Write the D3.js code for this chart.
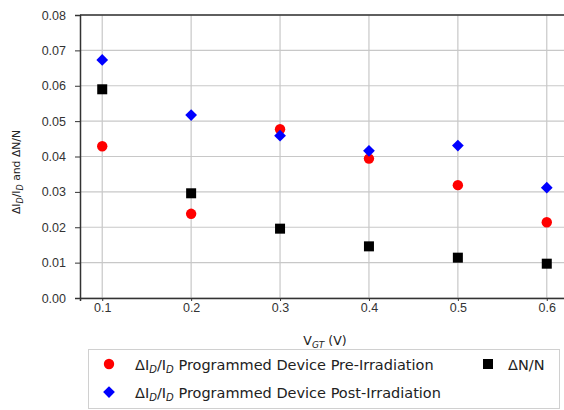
<!DOCTYPE html>
<html>
<head>
<meta charset="utf-8">
<script src="https://cdn.jsdelivr.net/npm/d3@7"></script>
<style>
  body { margin: 0; background: #fff; }
  svg { display: block; font-family: "DejaVu Sans", sans-serif; }
</style>
</head>
<body>
<div id="chart"></div>
<script>
const vgt = [0.1, 0.2, 0.3, 0.4, 0.5, 0.6];
const preIrr = [0.0429, 0.0238, 0.0477, 0.0394, 0.0319, 0.0214];
const postIrr = [0.0673, 0.0517, 0.0459, 0.0416, 0.0431, 0.0312];
const deltaN = [0.0590, 0.0296, 0.0196, 0.0146, 0.0114, 0.0097];
const xTicks = [0.1, 0.2, 0.3, 0.4, 0.5, 0.6];
const yTicks = [0, 0.01, 0.02, 0.03, 0.04, 0.05, 0.06, 0.07, 0.08];

const W = 564, H = 410;
const margin = {top: 15, right: -5, bottom: 112, left: 80};
const width = W - margin.left - margin.right;
const height = H - margin.top - margin.bottom;

const svg = d3.select("#chart").append("svg")
    .attr("width", W)
    .attr("height", H);

const g = svg.append("g")
    .attr("transform", "translate(" + margin.left + "," + margin.top + ")");

const x = d3.scaleLinear().domain([0.075, 0.625]).range([0, width]);
const y = d3.scaleLinear().domain([0, 0.08]).range([height, 0]);

// grid
g.append("g").selectAll("line").data(xTicks).enter().append("line")
    .attr("x1", d => x(d)).attr("x2", d => x(d))
    .attr("y1", 0).attr("y2", height)
    .style("stroke", "#c8c8c8").style("stroke-width", 1.2);
g.append("g").selectAll("line").data(yTicks).enter().append("line")
    .attr("x1", 0).attr("x2", width)
    .attr("y1", d => y(d)).attr("y2", d => y(d))
    .style("stroke", "#c8c8c8").style("stroke-width", 1.2);

// axes
const xAxis = g.append("g")
    .attr("transform", `translate(0, ${height})`)
    .call(d3.axisBottom(x).tickValues(xTicks).tickFormat(d3.format(".1f")).tickSizeOuter(0).tickSize(3).tickPadding(2));
const yAxis = g.append("g")
    .call(d3.axisLeft(y).tickValues(yTicks).tickFormat(d3.format(".2f")).tickSizeOuter(0).tickSize(5).tickPadding(9));
[xAxis, yAxis].forEach(a => {
    a.selectAll("text").style("font-size", "12.5px").style("fill", "#333");
    a.selectAll("line").style("stroke", "#333");
    a.select(".domain").style("stroke", "#333").style("stroke-width", 1.5);
});
g.append("line").attr("x1", 0).attr("x2", width).attr("y1", 0).attr("y2", 0)
    .style("stroke", "#333").style("stroke-width", 1.5);

// markers
g.selectAll(".pre").data(vgt).enter().append("circle")
    .attr("class", "pre")
    .attr("cx", d => x(d))
    .attr("cy", (d, i) => y(preIrr[i]))
    .attr("r", 5.2)
    .style("fill", "#ff0000");

const diamond = d3.symbol().type(d3.symbolDiamond2).size(88);
g.selectAll(".post").data(vgt).enter().append("path")
    .attr("class", "post")
    .attr("d", diamond)
    .attr("transform", (d, i) => `translate(${x(d)},${y(postIrr[i])})`)
    .style("fill", "#0000ff");

g.selectAll(".dn").data(vgt).enter().append("rect")
    .attr("class", "dn")
    .attr("x", d => x(d) - 5)
    .attr("y", (d, i) => y(deltaN[i]) - 5)
    .attr("width", 10).attr("height", 10)
    .style("fill", "#000");

// axis titles
const xt = svg.append("text")
    .attr("x", 325).attr("y", 345)
    .attr("text-anchor", "middle")
    .style("font-size", "12.5px").style("fill", "#222");
xt.append("tspan").text("V");
xt.append("tspan").text("GT").attr("dy", 3).style("font-size", "9px").style("font-style", "italic");
xt.append("tspan").text(" (V)").attr("dy", -3);

const yt = svg.append("text")
    .attr("transform", "translate(20,172) rotate(-90)")
    .attr("text-anchor", "middle")
    .style("font-size", "10.8px").style("fill", "#222");
yt.append("tspan").text("ΔI");
yt.append("tspan").text("D").attr("dy", 2.5).style("font-size", "8px").style("font-style", "italic");
yt.append("tspan").text("/I").attr("dy", -2.5);
yt.append("tspan").text("D").attr("dy", 2.5).style("font-size", "8px").style("font-style", "italic");
yt.append("tspan").text(" and ΔN/N").attr("dy", -2.5);

// legend
const leg = svg.append("g");
leg.append("rect")
    .attr("x", 88.5).attr("y", 349.5).attr("width", 471).attr("height", 59)
    .style("fill", "#fff").style("stroke", "#d0d0d0").style("stroke-width", 1);

function subLabel(sel, tx, ty, rest) {
    const t = sel.append("text").attr("x", tx).attr("y", ty)
        .style("font-size", "14.5px").style("fill", "#222");
    t.append("tspan").text("ΔI");
    t.append("tspan").text("D").attr("dy", 3).style("font-size", "10px").style("font-style", "italic");
    t.append("tspan").text("/I").attr("dy", -3);
    t.append("tspan").text("D").attr("dy", 3).style("font-size", "10px").style("font-style", "italic");
    t.append("tspan").text(rest).attr("dy", -3);
}
leg.append("circle").attr("cx", 109).attr("cy", 364).attr("r", 5.2).style("fill", "#ff0000");
subLabel(leg, 135, 369.5, " Programmed Device Pre-Irradiation");
leg.append("path").attr("d", diamond).attr("transform", "translate(109,392)").style("fill", "#0000ff");
subLabel(leg, 135, 397.5, " Programmed Device Post-Irradiation");
leg.append("rect").attr("x", 483).attr("y", 359).attr("width", 10).attr("height", 10).style("fill", "#000");
leg.append("text").attr("x", 508).attr("y", 369.5).text("ΔN/N")
    .style("font-size", "14.5px").style("fill", "#222");
</script>
</body>
</html>
